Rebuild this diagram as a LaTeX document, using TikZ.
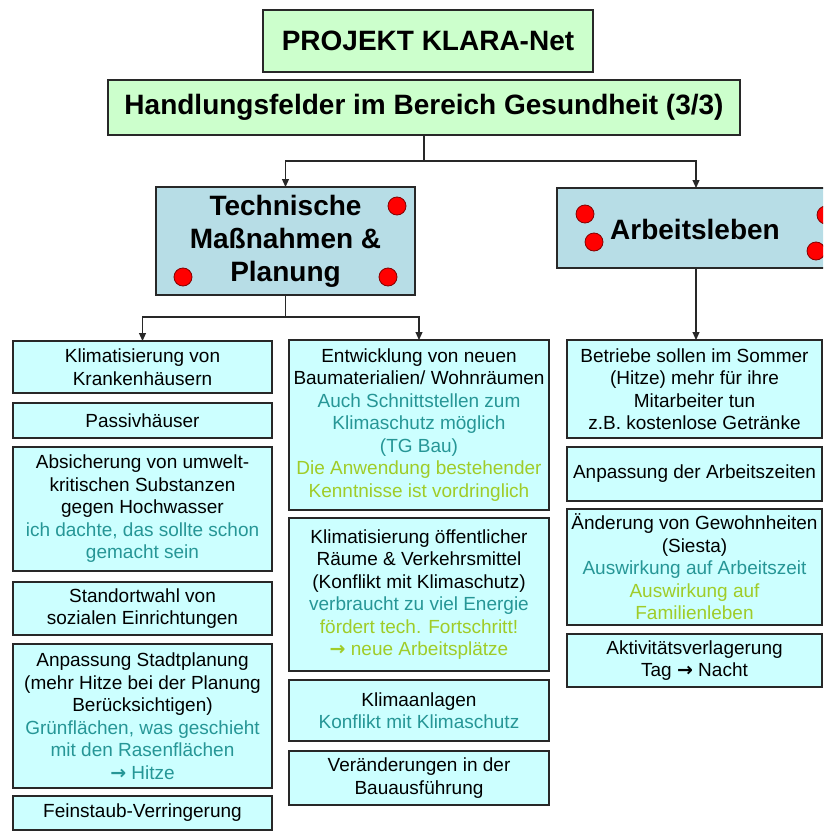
\documentclass[tikz,border=0pt]{standalone}
\usepackage{fontspec}
\setmainfont{Liberation Sans}
\newfontfamily\arrowfont{DejaVu Sans}
\usetikzlibrary{arrows.meta,calc}
\definecolor{greenfill}{RGB}{204,255,204}
\definecolor{headfill}{RGB}{183,221,230}
\definecolor{cyanfill}{RGB}{204,255,255}
\definecolor{linec}{RGB}{40,40,40}
\definecolor{tealtxt}{RGB}{38,150,150}
\definecolor{limetxt}{RGB}{160,204,40}
\definecolor{darkred}{RGB}{130,0,0}
\newcommand{\tl}[1]{\textcolor{tealtxt}{#1}}
\newcommand{\lm}[1]{\textcolor{limetxt}{#1}}
\newcommand{\rarr}{{\arrowfont\bfseries →}}
\begin{document}
\begin{tikzpicture}[x=1pt,y=-1pt,
  hd/.style={draw=linec, line width=1.3pt, fill=greenfill, font=\fontsize{28}{33}\selectfont\bfseries, align=center, inner sep=0pt, outer sep=0pt},
  cat/.style={draw=linec, line width=1.3pt, fill=headfill, font=\fontsize{28}{33}\selectfont\bfseries, align=center, inner sep=0pt, outer sep=0pt},
  cbox/.style={draw=linec, line width=1.3pt, fill=cyanfill, font=\fontsize{19}{22.5}\selectfont, align=center, inner sep=1pt, outer sep=0pt},
  lcol/.style={cbox, minimum width=259pt},
  mcol/.style={cbox, minimum width=260pt},
  rcol/.style={cbox, minimum width=255pt},
  arr/.style={draw=linec, line width=1.1pt, -{Triangle[length=8pt,width=7pt]}},
  reddot/.style={circle, fill=red, draw=darkred, line width=0.8pt, minimum size=18pt, inner sep=0pt}
]
\useasboundingbox (0,0) rectangle (823,832);
\clip (0,0) rectangle (823,832);
\fill[white] (0,0) rectangle (823,832);

% headers
\node[hd, minimum width=330pt, minimum height=62pt] (title) at (428,41) {PROJEKT KLARA-Net};
\node[hd, minimum width=632pt, minimum height=55pt] (handl) at (424,107.5) {Handlungsfelder im Bereich Gesundheit (3/3)};
\node[cat, minimum width=259pt, minimum height=108pt] (tech) at (285.5,241) {Technische\\Maßnahmen \&\\Planung};
\node[cat, minimum width=278pt, minimum height=80pt] (arb) at (696,228) {};
\node[font=\fontsize{28}{33}\selectfont\bfseries, inner sep=0pt] (arbtxt) at (695,229) {Arbeitsleben};

% red dots
\node[reddot] (d1) at (397,206) {};
\node[reddot] (d2) at (183,277) {};
\node[reddot] (d3) at (388,277) {};
\node[reddot] (d4) at (585,214) {};
\node[reddot] (d5) at (594,242) {};
\node[reddot] (d6) at (826,215) {};
\node[reddot] (d7) at (816,251) {};

% left column
\node[lcol, minimum height=52pt] (k1) at (142.5,367) {Klimatisierung von\\Krankenhäusern};
\node[lcol, minimum height=35pt] (k2) at (142.5,420.5) {Passivhäuser};
\node[lcol, minimum height=124pt] (k3) at (142.5,509) {Absicherung von umwelt-\\kritischen Substanzen\\gegen Hochwasser\\\tl{ich dachte, das sollte schon}\\\tl{gemacht sein}};
\node[lcol, minimum height=53pt] (k4) at (142.5,608.5) {Standortwahl von\\sozialen Einrichtungen};
\node[lcol, minimum height=144pt] (k5) at (142.5,716) {Anpassung Stadtplanung\\(mehr Hitze bei der Planung\\Berücksichtigen)\\\tl{Grünflächen, was geschieht}\\\tl{mit den Rasenflächen}\\\tl{\rarr{} Hitze}};
\node[lcol, minimum height=34pt] (k6) at (142.5,813) {Feinstaub-Verringerung};

% middle column
\node[mcol, minimum height=170pt] (m1) at (419,425) {Entwicklung von neuen\\Baumaterialien/ Wohnräumen\\\tl{Auch Schnittstellen zum}\\\tl{Klimaschutz möglich}\\\tl{(TG Bau)}\\\lm{Die Anwendung bestehender}\\\lm{Kenntnisse ist vordringlich}};
\node[mcol, minimum height=153pt] (m2) at (419,594.5) {Klimatisierung öffentlicher\\Räume \& Verkehrsmittel\\(Konflikt mit Klimaschutz)\\\tl{verbraucht zu viel Energie}\\\lm{fördert tech. Fortschritt!}\\\lm{\rarr{} neue Arbeitsplätze}};
\node[mcol, minimum height=61pt] (m3) at (419,710.5) {Klimaanlagen\\\tl{Konflikt mit Klimaschutz}};
\node[mcol, minimum height=54pt] (m4) at (419,778) {Veränderungen in der\\Bauausführung};

% right column
\node[rcol, minimum height=98pt] (r1) at (694.5,389) {Betriebe sollen im Sommer\\(Hitze) mehr für ihre\\Mitarbeiter tun\\z.B. kostenlose Getränke};
\node[rcol, minimum height=54pt] (r2) at (694.5,474) {Anpassung der Arbeitszeiten};
\node[rcol, minimum height=116pt] (r3) at (694.5,567) {Änderung von Gewohnheiten\\(Siesta)\\\tl{Auswirkung auf Arbeitszeit}\\\lm{Auswirkung auf}\\\lm{Familienleben}};
\node[rcol, minimum height=53pt] (r4) at (694.5,660.5) {Aktivitätsverlagerung\\Tag \rarr{} Nacht};

% connectors
\coordinate (j1) at ($(handl.south)+(0,26)$);
\draw[draw=linec, line width=1.1pt] (handl.south) -- (j1);
\draw[arr] (j1) -| (tech.north);
\draw[arr] (j1) -| (arb.north);
\coordinate (j2) at ($(tech.south)+(0,22)$);
\draw[draw=linec, line width=1.1pt] (tech.south) -- (j2);
\draw[arr] (j2) -| (k1.north);
\draw[arr] (j2) -| (m1.north);
\draw[arr] (arb.south) -- (arb.south |- r1.north);
\end{tikzpicture}
\end{document}
